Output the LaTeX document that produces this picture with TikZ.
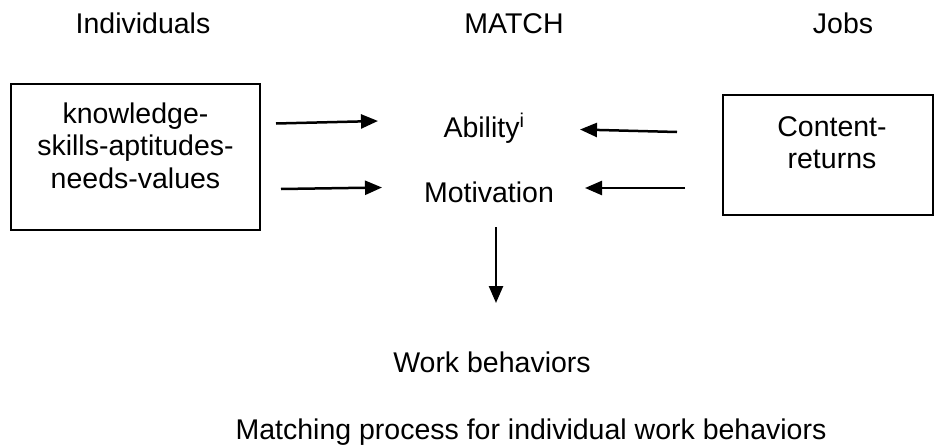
\documentclass[tikz,border=0pt]{standalone}
\usepackage{fontspec}
\setmainfont{Liberation Sans}
\usetikzlibrary{arrows.meta}
\begin{document}
\begin{tikzpicture}[x=1pt,y=-1pt,
  lbl/.style={font=\fontsize{28.5}{33}\selectfont, inner sep=0pt, anchor=base},
  frame/.style={draw, line width=2pt, inner sep=0pt},
  link/.style={line width=2.5pt, -{Triangle[length=17pt,width=14pt]}}]
\useasboundingbox (0,0) rectangle (935,447);

% column headings
\node[lbl] (hind) at (143,34) {Individuals};
\node[lbl] (hmatch) at (514,34) {MATCH};
\node[lbl] (hjobs) at (843,34) {Jobs};

% individual characteristics
\node[frame, minimum width=249pt, minimum height=146pt] (ind) at (135.5,157) {};
\node[lbl] (ind1) at (135.5,123) {knowledge-};
\node[lbl] (ind2) at (135.5,155.5) {skills-aptitudes-};
\node[lbl] (ind3) at (135.5,188) {needs-values};

% job characteristics
\node[frame, minimum width=210pt, minimum height=120pt] (job) at (828,155) {};
\node[lbl] (job1) at (832,136.5) {Content-};
\node[lbl] (job2) at (832,168) {returns};

% matching dimensions
\node[lbl] (abil) at (484,137) {Ability\textsuperscript{i}};
\node[lbl] (motiv) at (489,202) {Motivation};
\node[lbl] (work) at (492,372) {Work behaviors};

% caption
\node[lbl] (cap) at (531,439) {Matching process for individual work behaviors};

% connector end points
\coordinate (a1s) at (276,123.5);
\coordinate (a1e) at (378,121);
\coordinate (a2s) at (281,189);
\coordinate (a2e) at (382,187.5);
\coordinate (b1s) at (677,132);
\coordinate (b1e) at (580,129.5);
\coordinate (b2s) at (685,188);
\coordinate (b2e) at (585,188);
\coordinate (ds) at (496,227);
\coordinate (de) at (496,303);

\draw[link] (a1s) -- (a1e);
\draw[link] (a2s) -- (a2e);
\draw[link] (b1s) -- (b1e);
\draw[link] (b2s) -- (b2e);
\draw[link] (ds) -- (de);
\end{tikzpicture}
\end{document}
